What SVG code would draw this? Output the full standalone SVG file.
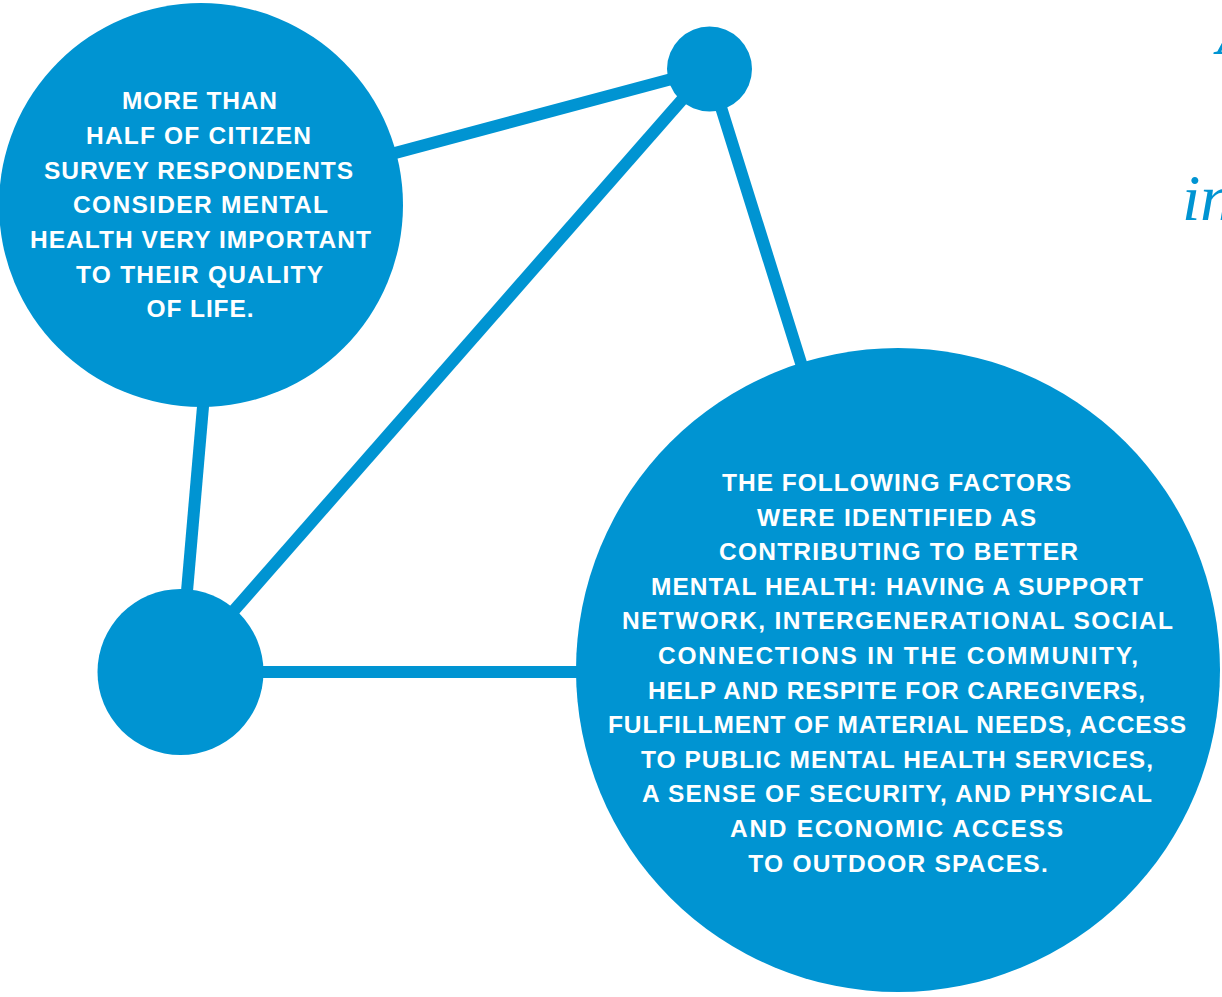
<svg xmlns="http://www.w3.org/2000/svg" width="1222" height="997" viewBox="0 0 1222 997">
<style>
.node{fill:#0094d2}
.edge{stroke:#0094d2;stroke-width:12;fill:none}
.lbl{fill:#ffffff;font-family:"Liberation Sans",Arial,sans-serif;font-weight:bold;font-size:24.5px;text-anchor:middle}
.quote{fill:#0094d2;font-family:"Liberation Serif","Times New Roman",serif;font-style:italic;font-size:66px}
</style>
<rect width="1222" height="997" fill="#ffffff"/>
<g id="connectors">
<line class="edge" x1="709" y1="69" x2="201" y2="205"/>
<line class="edge" x1="709" y1="69" x2="897" y2="670"/>
<line class="edge" x1="709" y1="69" x2="180" y2="672"/>
<line class="edge" x1="204" y1="395" x2="180" y2="672"/>
<line class="edge" x1="180" y1="672" x2="898" y2="672"/>
</g>
<g id="node-survey">
<circle class="node" cx="201" cy="205" r="202"/>
<text class="lbl" x="199.5" y="109" textLength="155">MORE THAN</text>
<text class="lbl" x="198.5" y="144" textLength="225">HALF OF CITIZEN</text>
<text class="lbl" x="198.5" y="178.5" textLength="309">SURVEY RESPONDENTS</text>
<text class="lbl" x="200.5" y="213" textLength="255">CONSIDER MENTAL</text>
<text class="lbl" x="200.5" y="248" textLength="341">HEALTH VERY IMPORTANT</text>
<text class="lbl" x="199.5" y="282.5" textLength="247">TO THEIR QUALITY</text>
<text class="lbl" x="200" y="317" textLength="107">OF LIFE.</text>
</g>
<g id="node-top">
<circle class="node" cx="709.5" cy="69" r="42.5"/>
</g>
<g id="node-bottom-left">
<circle class="node" cx="180.5" cy="672" r="83"/>
</g>
<g id="node-factors">
<circle class="node" cx="898" cy="670" r="322"/>
<text class="lbl" x="896.5" y="491" textLength="349">THE FOLLOWING FACTORS</text>
<text class="lbl" x="896.5" y="525.6" textLength="279">WERE IDENTIFIED AS</text>
<text class="lbl" x="898.5" y="560.2" textLength="359">CONTRIBUTING TO BETTER</text>
<text class="lbl" x="897" y="594.8" textLength="492">MENTAL HEALTH: HAVING A SUPPORT</text>
<text class="lbl" x="897.5" y="629.4" textLength="551">NETWORK, INTERGENERATIONAL SOCIAL</text>
<text class="lbl" x="898" y="664" textLength="480">CONNECTIONS IN THE COMMUNITY,</text>
<text class="lbl" x="896.5" y="698.6" textLength="497">HELP AND RESPITE FOR CAREGIVERS,</text>
<text class="lbl" x="897" y="733.2" textLength="578">FULFILLMENT OF MATERIAL NEEDS, ACCESS</text>
<text class="lbl" x="897" y="767.8" textLength="512">TO PUBLIC MENTAL HEALTH SERVICES,</text>
<text class="lbl" x="897" y="802.4" textLength="510">A SENSE OF SECURITY, AND PHYSICAL</text>
<text class="lbl" x="896.5" y="837" textLength="333">AND ECONOMIC ACCESS</text>
<text class="lbl" x="898" y="871.6" textLength="299.5">TO OUTDOOR SPACES.</text>
</g>
<g id="quote">
<text class="quote" x="1217" y="54">A</text>
<text class="quote" x="1182" y="220">in</text>
</g>
</svg>
